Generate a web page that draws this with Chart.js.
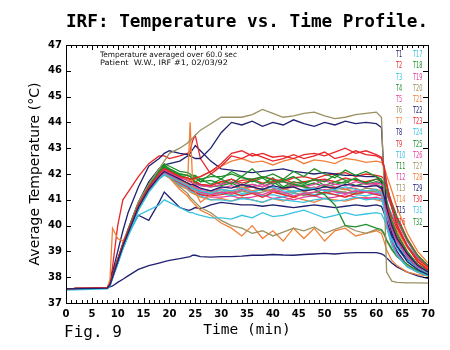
<!DOCTYPE html>
<html><head><meta charset="utf-8">
<script src="https://cdn.jsdelivr.net/npm/chart.js@4/dist/chart.umd.min.js"></script>
<style>html,body{margin:0;padding:0;background:#fff}#c{display:block}</style>
</head><body>
<canvas id="c" width="450" height="350"></canvas>
<script>
// time axis (min)
const time = [0,8,8.5,9,10,11,12,14,16,18,19,20,22,23.5,24,24.5,25,26,28,
  30,32,34,36,38,40,42,44,46,48,50,52,54,56,58,60,
  61,61.5,62,63,64,66,68,70];

// temperature series (deg C)
const T1 = [37.55,37.58,37.7,38.0,38.6,39.2,39.7,40.7,41.4,41.9,42.1,42.0,41.8,41.65,41.6,41.6,41.55,41.45,41.35,
  41.5,41.45,41.6,41.5,41.4,41.55,41.45,41.5,41.35,41.4,41.5,41.45,41.6,41.55,41.5,41.55,
  41.45,41.15,40.7,40.0,39.5,38.9,38.45,38.2];
const T2 = [37.55,37.6,37.75,38.1,38.7,39.3,39.8,40.8,41.5,42.0,42.2,42.1,41.9,41.85,41.8,41.8,41.85,41.9,42.1,
  42.4,42.8,42.9,42.7,42.8,42.65,42.7,42.6,42.75,42.8,42.7,42.85,43.0,42.8,42.9,42.75,
  42.65,42.3,41.65,40.7,40.05,39.2,38.6,38.3];
const T3 = [37.5,37.55,37.65,37.95,38.5,39.1,39.6,40.6,41.3,41.8,42.0,41.9,41.7,41.55,41.5,41.45,41.4,41.35,41.25,
  41.4,41.35,41.45,41.3,41.4,41.5,41.35,41.3,41.4,41.45,41.35,41.4,41.5,41.4,41.35,41.4,
  41.25,40.65,39.95,39.25,38.85,38.4,38.2,38.05];
const T4 = [37.55,37.58,37.7,38.05,38.65,39.25,39.8,40.8,41.5,42.1,42.35,42.2,42.0,41.95,41.9,41.8,41.7,41.8,41.6,
  41.8,41.6,41.9,41.7,41.85,41.6,41.75,41.9,41.65,41.8,41.7,41.95,41.75,41.8,41.65,41.8,
  41.75,41.65,41.35,40.8,40.3,39.45,38.85,38.45];
const T5 = [37.55,37.6,37.72,38.0,38.6,39.2,39.7,40.7,41.4,41.9,42.05,41.95,41.7,41.55,41.5,41.45,41.4,41.3,41.2,
  41.3,41.25,41.4,41.3,41.2,41.35,41.3,41.15,41.25,41.3,41.4,41.3,41.25,41.35,41.3,41.25,
  41.2,40.9,40.5,39.85,39.4,38.8,38.4,38.2];
const T6 = [37.55,37.6,37.7,38.0,38.6,39.2,39.8,40.9,41.6,42.2,42.5,42.8,43.0,43.2,43.3,43.4,43.5,43.7,43.95,
  44.2,44.2,44.2,44.3,44.5,44.35,44.2,44.25,44.35,44.4,44.25,44.15,44.2,44.3,44.35,44.4,
  44.2,41.5,38.2,37.85,37.8,37.78,37.78,37.77];
const T7 = [37.55,37.6,37.9,39.9,39.5,39.4,39.8,40.7,41.4,41.9,42.05,41.95,41.7,41.6,44.0,41.6,41.3,40.9,41.2,
  41.4,41.3,41.5,41.35,41.45,41.3,41.4,41.5,41.3,41.45,41.35,41.5,41.4,41.45,41.3,41.4,
  41.35,41.05,40.6,39.95,39.45,38.85,38.45,38.2];
const T8 = [37.55,37.6,37.75,38.2,39.0,39.8,40.5,41.5,42.3,42.6,42.8,42.9,42.8,42.75,42.7,42.65,42.6,42.6,43.0,
  43.6,44.0,43.9,44.05,43.85,44.0,43.9,44.1,43.95,43.85,44.0,43.9,44.05,43.95,44.0,43.95,
  43.8,42.0,40.6,39.7,39.2,38.6,38.3,38.1];
const T9 = [37.55,37.6,37.7,38.4,40.0,41.0,41.3,41.9,42.4,42.7,42.7,42.6,42.7,42.8,42.9,43.3,43.5,42.6,42.0,
  42.3,42.7,42.6,42.8,42.65,42.5,42.6,42.75,42.6,42.7,42.85,42.6,42.7,42.9,42.75,42.7,
  42.6,42.25,41.6,40.7,40.0,39.2,38.6,38.3];
const T10 = [37.55,37.58,37.7,38.0,38.55,39.1,39.6,40.4,40.6,40.8,41.0,40.9,40.7,40.55,40.5,40.5,40.45,40.4,40.3,
  40.3,40.25,40.4,40.3,40.5,40.35,40.4,40.5,40.6,40.45,40.3,40.4,40.5,40.4,40.45,40.5,
  40.45,40.25,39.95,39.45,39.1,38.65,38.35,38.15];
const T11 = [37.55,37.6,37.72,38.05,38.65,39.25,39.8,40.8,41.5,42.1,42.3,42.2,42.0,41.95,41.9,41.95,41.95,41.8,41.9,
  41.9,42.0,41.85,41.8,41.9,41.75,41.7,41.6,41.5,41.4,41.2,40.8,40.0,39.95,40.05,39.9,
  39.85,39.7,39.45,39.1,38.8,38.5,38.25,38.1];
const T12 = [37.55,37.6,37.7,38.0,38.6,39.2,39.75,40.75,41.45,42.0,42.15,42.05,41.85,41.75,41.7,41.65,41.6,41.55,41.5,
  41.6,41.7,41.55,41.6,41.5,41.65,41.7,41.55,41.5,41.6,41.75,41.6,41.55,41.7,41.6,41.65,
  41.6,41.5,41.2,40.7,40.2,39.4,38.8,38.45];
const T13 = [37.55,37.6,37.7,38.0,38.6,39.2,39.7,40.7,41.4,41.9,42.0,41.9,41.5,41.25,41.1,41.0,40.9,40.7,40.5,
  40.2,40.0,39.9,39.7,39.8,39.6,39.75,39.9,39.8,39.95,39.7,39.85,40.0,39.8,39.7,39.85,
  39.8,39.65,39.4,39.05,38.8,38.45,38.25,38.1];
const T14 = [37.55,37.6,37.72,38.05,38.6,39.2,39.7,40.7,41.4,41.9,42.0,41.85,41.4,41.15,41.0,40.9,40.8,40.6,40.4,
  40.1,39.9,39.6,40.0,39.5,39.8,39.4,39.9,39.5,39.9,39.4,39.8,39.9,39.6,39.7,39.8,
  39.7,39.4,39.05,38.65,38.45,38.2,38.1,38.05];
const T15 = [37.55,37.58,37.62,37.66,37.8,37.92,38.05,38.3,38.45,38.55,38.6,38.65,38.72,38.78,38.8,38.85,38.85,38.8,38.78,
  38.8,38.8,38.82,38.85,38.85,38.88,38.86,38.85,38.88,38.9,38.92,38.9,38.93,38.95,38.95,38.95,
  38.9,38.85,38.75,38.55,38.4,38.2,38.05,37.95];
const T16 = [37.55,37.6,37.7,38.0,38.55,39.15,39.65,40.65,41.35,41.85,42.0,41.9,41.65,41.5,41.4,41.35,41.3,41.2,41.15,
  41.2,41.3,41.15,41.25,41.1,41.3,41.2,41.1,41.25,41.15,41.3,41.2,41.1,41.25,41.3,41.2,
  41.15,41.05,40.8,40.35,39.9,39.2,38.7,38.4];
const T17 = [37.55,37.58,37.68,37.98,38.55,39.1,39.6,40.6,41.3,41.8,41.95,41.85,41.6,41.45,41.35,41.3,41.25,41.15,41.0,
  41.0,40.95,41.05,41.0,40.9,41.05,41.0,40.95,40.9,41.0,41.05,40.95,41.0,41.1,41.0,41.05,
  41.0,40.75,40.35,39.75,39.3,38.75,38.4,38.2];
const T18 = [37.55,37.6,37.75,38.1,38.7,39.3,39.85,40.9,41.6,42.2,42.4,42.3,42.1,42.05,42.0,41.9,41.85,41.7,42.0,
  41.8,42.1,41.9,42.2,41.85,42.0,41.8,42.1,41.9,42.2,42.0,41.85,42.15,41.95,42.1,41.9,
  41.8,41.5,41.0,40.2,39.7,39.0,38.5,38.25];
const T19 = [37.55,37.6,37.7,38.0,38.6,39.2,39.7,40.7,41.4,41.95,42.1,42.0,41.8,41.65,41.6,41.55,41.5,41.4,41.35,
  41.45,41.55,41.4,41.5,41.6,41.45,41.4,41.55,41.5,41.45,41.6,41.5,41.4,41.55,41.5,41.6,
  41.4,40.8,40.1,39.35,38.9,38.45,38.2,38.05];
const T20 = [37.55,37.58,37.7,38.0,38.55,39.15,39.7,40.7,41.4,41.9,42.05,41.95,41.7,41.55,41.5,41.45,41.4,41.3,41.2,
  41.3,41.2,41.35,41.25,41.3,41.4,41.2,41.3,41.15,41.3,41.25,41.35,41.3,41.2,41.3,41.35,
  41.3,41.0,40.6,39.9,39.45,38.85,38.45,38.2];
const T21 = [37.55,37.6,37.72,38.05,38.65,39.25,39.8,40.8,41.5,42.0,42.15,42.05,41.85,41.8,41.75,41.75,41.8,41.9,42.1,
  42.3,42.5,42.6,42.45,42.5,42.35,42.5,42.6,42.4,42.55,42.5,42.4,42.6,42.55,42.45,42.5,
  42.45,42.3,41.95,41.35,40.7,39.7,39.0,38.55];
const T22 = [37.55,37.6,37.75,38.1,38.7,39.3,39.85,40.9,41.7,42.2,42.35,42.4,42.5,42.7,42.8,42.95,43.1,42.9,42.5,
  42.2,42.15,42.1,42.05,42.1,42.15,42.2,42.1,42.05,42.0,42.05,42.0,41.95,41.95,41.9,41.9,
  41.7,41.05,40.25,39.45,39.0,38.45,38.25,38.1];
const T23 = [37.55,37.6,37.72,38.05,38.65,39.25,39.8,40.8,41.5,42.05,42.2,42.1,41.9,41.8,41.75,41.7,41.7,41.6,41.55,
  41.7,41.8,41.65,41.75,41.9,41.8,41.7,41.85,41.9,41.8,41.95,42.0,42.05,41.9,42.0,41.95,
  41.9,41.8,41.5,40.9,40.35,39.5,38.85,38.45];
const T24 = [37.55,37.58,37.68,37.98,38.55,39.15,39.65,40.65,41.35,41.85,42.0,41.9,41.65,41.5,41.45,41.4,41.35,41.25,41.2,
  41.25,41.15,41.2,41.3,41.15,41.2,41.1,41.25,41.2,41.15,41.25,41.2,41.3,41.2,41.15,41.25,
  41.2,40.9,40.5,39.85,39.4,38.8,38.4,38.2];
const T25 = [37.55,37.6,37.72,38.05,38.65,39.25,39.8,40.8,41.5,42.05,42.25,42.15,41.95,41.85,41.8,41.85,41.9,41.7,41.75,
  41.6,41.8,41.55,41.75,41.6,41.85,41.5,41.7,41.6,41.8,41.55,41.7,41.65,41.85,41.6,41.7,
  41.65,41.55,41.25,40.75,40.2,39.4,38.8,38.45];
const T26 = [37.55,37.6,37.7,38.0,38.55,39.15,39.65,40.65,41.35,41.85,42.0,41.9,41.6,41.45,41.4,41.35,41.3,41.2,41.1,
  41.1,41.15,41.05,41.1,41.2,41.05,41.1,41.0,41.1,41.15,41.05,41.1,41.2,41.1,41.05,41.1,
  41.05,40.8,40.4,39.75,39.35,38.8,38.4,38.2];
const T27 = [37.55,37.58,37.7,38.0,38.6,39.2,39.7,40.7,41.4,41.9,42.05,41.95,41.75,41.6,41.55,41.5,41.45,41.35,41.3,
  41.4,41.35,41.45,41.5,41.35,41.4,41.45,41.3,41.4,41.5,41.35,41.45,41.4,41.3,41.45,41.4,
  41.25,40.65,39.95,39.25,38.85,38.4,38.2,38.05];
const T28 = [37.55,37.6,37.7,38.0,38.55,39.15,39.65,40.65,41.35,41.85,42.0,41.85,41.55,41.4,41.3,41.25,41.2,41.1,41.0,
  41.05,40.95,41.1,41.0,40.9,41.05,40.95,41.1,41.0,40.9,41.05,41.0,40.95,41.05,41.1,41.0,
  40.95,40.9,40.65,40.2,39.8,39.15,38.65,38.35];
const T29 = [37.55,37.6,37.7,38.0,38.6,39.2,39.7,40.4,40.2,40.9,41.3,41.1,40.7,40.6,40.6,40.65,40.7,40.65,40.8,
  40.9,40.85,40.8,40.8,40.75,40.8,40.75,40.7,40.75,40.8,40.75,40.7,40.75,40.8,40.75,40.8,
  40.75,40.5,40.15,39.6,39.2,38.7,38.35,38.15];
const T30 = [37.55,37.6,37.72,38.05,38.65,39.25,39.8,40.8,41.5,42.0,42.2,42.1,41.9,41.8,41.75,41.7,41.7,41.6,41.55,
  41.7,41.65,41.75,41.8,41.65,41.7,41.8,41.65,41.7,41.75,41.8,41.7,41.85,41.75,41.7,41.8,
  41.7,41.4,40.95,40.15,39.65,38.95,38.5,38.25];
const T31 = [37.55,37.58,37.7,38.0,38.6,39.2,39.7,40.7,41.4,41.9,42.05,41.95,41.7,41.55,41.5,41.45,41.4,41.3,41.25,
  41.3,41.35,41.25,41.3,41.4,41.3,41.25,41.35,41.3,41.2,41.3,41.35,41.25,41.3,41.35,41.3,
  41.25,41.15,40.9,40.45,40.0,39.25,38.75,38.4];
const T32 = [37.55,37.6,37.72,38.05,38.65,39.25,39.8,40.8,41.5,42.05,42.3,42.15,41.9,41.75,41.7,41.7,41.65,41.55,41.5,
  41.55,41.65,41.45,41.6,41.5,41.7,41.45,41.6,41.55,41.65,41.5,41.6,41.7,41.55,41.65,41.6,
  41.5,41.25,40.75,40.05,39.55,38.9,38.45,38.2];

const seriesNames = ['T1','T2','T3','T4','T5','T6','T7','T8','T9','T10','T11','T12','T13','T14','T15','T16',
  'T17','T18','T19','T20','T21','T22','T23','T24','T25','T26','T27','T28','T29','T30','T31','T32'];
const seriesData = [T1,T2,T3,T4,T5,T6,T7,T8,T9,T10,T11,T12,T13,T14,T15,T16,
  T17,T18,T19,T20,T21,T22,T23,T24,T25,T26,T27,T28,T29,T30,T31,T32];
const titleText = 'IRF: Temperature vs. Time Profile.';
const noteLines = ['Temperature averaged over 60.0 sec', 'Patient  W.W., IRF #1, 02/03/92'];
const figLabel = 'Fig. 9';

// styles
const palette = ['#1f2070','#e8262a','#38c2e2','#1f8f2a','#e6409e','#9a9060','#f0803a'];

function sText(ctx, s, x, y, font, color, sx, align, base) {
  ctx.save();
  ctx.font = font; ctx.fillStyle = color;
  ctx.textAlign = align || 'left'; ctx.textBaseline = base || 'middle';
  ctx.translate(x, y); ctx.scale(sx, 1);
  ctx.fillText(s, 0, 0);
  ctx.restore();
}

const decor = {
  id: 'decor',
  afterDraw(chart) {
    const ctx = chart.ctx, a = chart.chartArea;
    const xs = chart.scales.x, ys = chart.scales.y;
    ctx.save();
    ctx.strokeStyle = '#000'; ctx.lineWidth = 1;
    ctx.strokeRect(Math.round(a.left) + 0.5, Math.round(a.top) + 0.5,
                   Math.round(a.right - a.left), Math.round(a.bottom - a.top));
    ctx.beginPath();
    for (let v = 0; v <= 70; v += 1) {
      const px = Math.round(xs.getPixelForValue(v)) + 0.5;
      const len = (v % 5 === 0) ? 5 : 3;
      ctx.moveTo(px, a.bottom); ctx.lineTo(px, a.bottom - len);
      ctx.moveTo(px, a.top); ctx.lineTo(px, a.top + len);
    }
    for (let v = 37; v <= 47; v += 1) {
      const py = Math.round(ys.getPixelForValue(v)) + 0.5;
      ctx.moveTo(a.left, py); ctx.lineTo(a.left + 5, py);
      ctx.moveTo(a.right, py); ctx.lineTo(a.right - 5, py);
    }
    ctx.stroke();
    ctx.restore();

    sText(ctx, titleText, (a.left + a.right) / 2, 27, 'bold 17.7px "DejaVu Sans Mono"', '#000', 1, 'center', 'alphabetic');
    sText(ctx, figLabel, 64, 337, '16px "DejaVu Sans Mono"', '#000', 1, 'left', 'alphabetic');
    ctx.save(); ctx.font = '7.5px "DejaVu Sans"';
    const w0 = ctx.measureText(noteLines[0]).width, w1 = ctx.measureText(noteLines[1]).width;
    ctx.restore();
    sText(ctx, noteLines[0], 100, 55, '7.5px "DejaVu Sans"', '#111', 137 / w0);
    sText(ctx, noteLines[1], 100, 63, '7.5px "DejaVu Sans"', '#111', 128 / w1);
    for (let i = 0; i < seriesNames.length; i++) {
      const col = Math.floor(i / 16), row = i % 16;
      sText(ctx, seriesNames[i], col === 0 ? 396 : 413, 55 + row * 11.15,
            '9px "DejaVu Sans"', palette[i % 7], 0.55);
    }
  }
};

new Chart(document.getElementById('c'), {
  type: 'line',
  data: {
    labels: time,
    datasets: seriesData.map((d, i) => ({
      label: seriesNames[i], data: d, borderColor: palette[i % 7], backgroundColor: palette[i % 7],
      borderWidth: 1.3, pointRadius: 0, fill: false, tension: 0
    }))
  },
  options: {
    responsive: false, animation: false, devicePixelRatio: 1,
    layout: { padding: { left: 0, right: 22, top: 45, bottom: 0 } },
    plugins: { legend: { display: false }, tooltip: { enabled: false }, title: { display: false } },
    scales: {
      x: {
        type: 'linear', min: 0, max: 70,
        grid: { display: false, drawTicks: false }, border: { display: false },
        ticks: { stepSize: 5, padding: 5, maxRotation: 0, autoSkip: false, color: '#000',
                 font: { family: 'DejaVu Sans', size: 10, weight: 'bold' } },
        title: { display: true, text: 'Time (min)', color: '#000',
                 font: { family: 'DejaVu Sans Mono', size: 14.5 }, padding: { top: 0, bottom: 11 } },
        afterFit: s => { s.height = 47; }
      },
      y: {
        type: 'linear', min: 37, max: 47,
        grid: { display: false, drawTicks: false }, border: { display: false },
        ticks: { stepSize: 1, padding: 4, color: '#000',
                 font: { family: 'DejaVu Sans', size: 10, weight: 'bold' } },
        title: { display: true, text: 'Average Temperature (°C)', color: '#000',
                 font: { family: 'DejaVu Sans', size: 14 }, padding: { top: 27, bottom: 0 } },
        afterFit: s => { s.width = 66; }
      }
    }
  },
  plugins: [decor]
});
</script>
</body></html>
